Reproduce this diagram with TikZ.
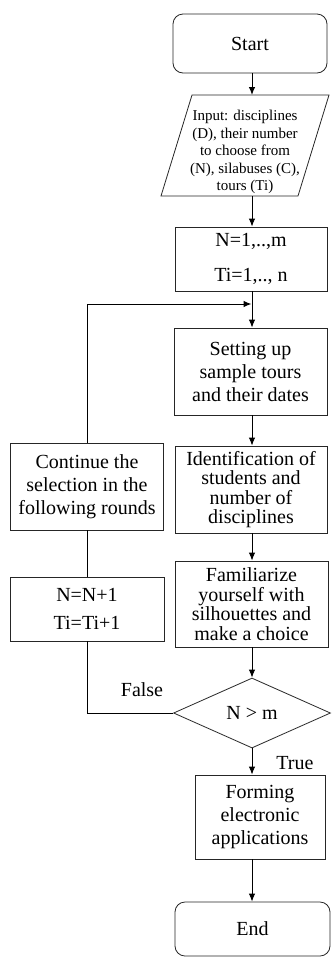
\documentclass[tikz,border=0pt]{standalone}
\usepackage{fontspec}
\setmainfont{Liberation Serif}
\usetikzlibrary{shapes.geometric,arrows.meta}
\begin{document}
\begin{tikzpicture}[x=1pt,y=-1pt,
  box/.style={draw=black!85,line width=0.8pt,rectangle,inner sep=0pt,align=center,
    font=\fontsize{20}{23}\selectfont},
  tight/.style={font=\fontsize{20}{19.5}\selectfont},
  term/.style={box,rounded corners=10pt},
  arr/.style={line width=1pt,-{Latex[length=8pt,width=6.5pt]}},
  ln/.style={line width=0.8pt},
  lbl/.style={inner sep=0pt,font=\fontsize{20}{23}\selectfont}]
\useasboundingbox (0,0) rectangle (333,959);
% nodes
\node[term,minimum width=154pt,minimum height=59pt] (start) at (250,43.5) {Start};
\coordinate (inA) at (192,95);
\coordinate (inB) at (329,95);
\coordinate (inC) at (298,196);
\coordinate (inD) at (161,196);
\draw[draw=black!85,line width=0.8pt] (inA) -- (inB) -- (inC) -- (inD) -- cycle;
\node[inner sep=0pt,align=center,font=\fontsize{15}{17.5}\selectfont] (input) at (245,152)
  {Input: disciplines\\(D), their number\\to choose from\\(N), silabuses (C),\\tours (Ti)};
\coordinate (intop) at (252,95);
\coordinate (inbot) at (252,196);
\node[box,minimum width=152pt,minimum height=64pt] (n1) at (251,259) {N=1,..,m\\[12pt]Ti=1,.., n};
\node[box,minimum width=153pt,minimum height=87pt] (setting) at (250.5,371.5) {Setting up\\sample tours\\and their dates};
\node[box,tight,minimum width=152pt,minimum height=87pt] (ident) at (251,489.5) {Identification of\\students and\\number of\\disciplines};
\node[box,tight,minimum width=153pt,minimum height=86pt] (famil) at (251.5,604) {Familiarize\\yourself with\\silhouettes and\\make a choice};
\node[draw=black!85,line width=0.8pt,diamond,inner sep=0pt,minimum width=157pt,minimum height=70pt,
  font=\fontsize{20}{23}\selectfont] (dia) at (252,713) {N > m};
\node[box,minimum width=130pt,minimum height=84pt] (forming) at (260,817) {Forming\\electronic\\applications};
\node[term,minimum width=155pt,minimum height=54pt] (end) at (252.5,929) {End};
\node[box,minimum width=153pt,minimum height=87pt] (cont) at (87,486.5) {Continue the\\selection in the\\following rounds};
\node[box,minimum width=154pt,minimum height=64pt] (nn) at (87,609) {N=N+1\\[5pt]Ti=Ti+1};
\coordinate (joint) at (252,304);
\node[lbl] (false) at (142,690) {False};
\node[lbl] (true) at (295,763) {True};
% connectors
\draw[arr] (start.south -| intop) -- (intop);
\draw[arr] (inbot) -- (inbot |- n1.north);
\draw[arr] (n1.south -| joint) -- (setting.north -| joint);
\draw[arr] (setting.south -| joint) -- (ident.north -| joint);
\draw[arr] (ident.south -| joint) -- (famil.north -| joint);
\draw[arr] (famil.south -| dia.north) -- (dia.north);
\draw[arr] (dia.south) -- (forming.north -| dia.south);
\draw[arr] (forming.south -| dia.south) -- (end.north -| dia.south);
\draw[ln] (dia.west) -| (nn.south);
\draw[ln] (nn.north) -- (cont.south);
\draw[arr] (cont.north) |- ([xshift=-0.5pt]joint);
\end{tikzpicture}
\end{document}
